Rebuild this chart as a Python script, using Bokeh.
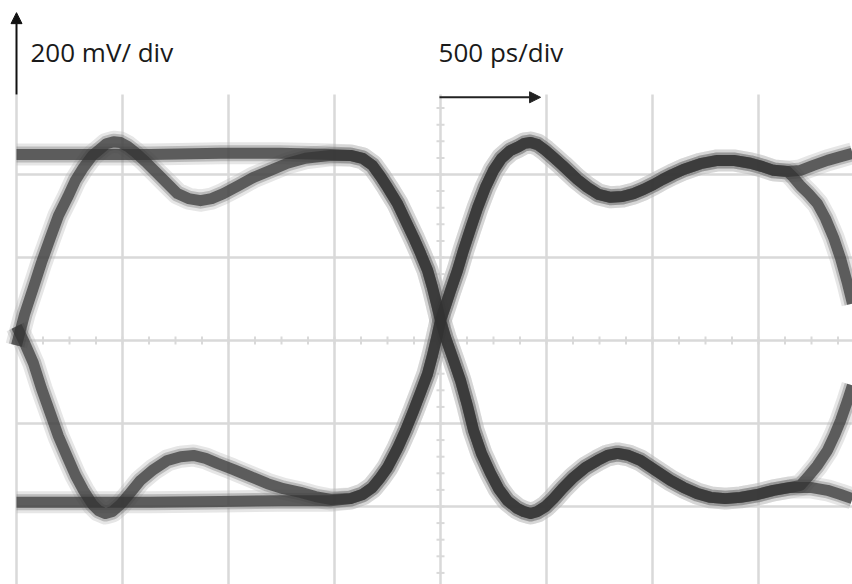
from bokeh.plotting import figure
from bokeh.models import Range1d, Label, Arrow, NormalHead
from bokeh.embed import file_html
from bokeh.resources import INLINE

# ---------------- data (time in ps, voltage in mV) ----------------
# Scale: 500 ps/div horizontally, 200 mV/div vertically
grid_t_ps = [-2000, -1500, -1000, -500, 0, 500, 1000, 1500]
grid_v_mV = [-400, -200, 0, 200, 400]

# left half segments
top_flat_left_t = [-2000, -1698, -1368, -1038, -755, -519]
top_flat_left_v = [448, 448, 448, 451, 451, 448]

top_ring_left_t = [-2000, -1962, -1920, -1882, -1840, -1802, -1759, -1722, -1684, -1642,
                   -1604, -1576, -1542, -1509, -1476, -1439, -1392, -1335, -1288, -1241,
                   -1189, -1132, -1080, -1024, -953, -882, -802, -722, -637, -519]
top_ring_left_v = [-12, 63, 128, 188, 248, 301, 345, 386, 417, 446,
                   462, 474, 479, 477, 468, 453, 431, 402, 378, 354,
                   342, 337, 342, 354, 373, 393, 410, 427, 439, 446]

bot_flat_left_t = [-2000, -1698, -1368, -1038, -755, -519]
bot_flat_left_v = [-390, -390, -390, -388, -386, -386]

bot_ring_left_t = [-2000, -1967, -1920, -1882, -1840, -1802, -1759, -1722, -1684, -1642,
                   -1613, -1580, -1547, -1509, -1462, -1415, -1354, -1288, -1226, -1165,
                   -1108, -1052, -976, -896, -816, -741, -660, -590, -519]
bot_ring_left_v = [34, 0, -55, -116, -176, -231, -282, -325, -361, -395,
                   -410, -417, -412, -395, -366, -337, -311, -289, -280, -277,
                   -284, -296, -311, -328, -345, -357, -366, -376, -383]

# transitions through the centre crossing and the right-half ringing
fall_mid_t = [-425, -368, -321, -283, -250, -203, -165, -127, -94, -61,
              -38, -19, 0, 24, 57, 94, 127, 156, 193, 236,
              274, 316, 363, 392, 425, 458, 495, 533, 575, 627,
              684, 741, 788, 835, 887, 943, 1014, 1085, 1146, 1212,
              1274, 1344, 1415, 1495, 1571, 1651]
fall_mid_v = [446, 439, 422, 395, 369, 330, 289, 248, 210, 169,
              128, 89, 48, 7, -41, -96, -157, -217, -272, -320,
              -357, -386, -405, -412, -417, -412, -400, -381, -357, -330,
              -306, -289, -277, -272, -277, -289, -313, -337, -354, -369,
              -378, -381, -378, -371, -361, -354]

rise_mid_t = [-425, -368, -321, -283, -250, -203, -165, -127, -94, -61,
              -38, -19, 0, 24, 47, 80, 108, 142, 175, 212,
              250, 288, 330, 368, 396, 425, 458, 495, 533, 575,
              646, 693, 745, 802, 858, 910, 958, 1005, 1047, 1094,
              1146, 1226, 1307, 1382, 1462, 1519, 1571, 1637]
rise_mid_v = [-381, -371, -354, -330, -306, -260, -217, -169, -125, -80,
              -36, 5, 48, 84, 120, 169, 217, 270, 320, 369,
              410, 439, 458, 467, 475, 477, 472, 458, 441, 422,
              388, 369, 352, 345, 347, 354, 364, 376, 388, 400,
              412, 426, 434, 434, 427, 419, 410, 407]

# right-edge segments
top_flat_end_t = [1698, 1759, 1825, 1887, 1943]
top_flat_end_v = [410, 422, 434, 443, 451]

top_fall_end_t = [1665, 1698, 1736, 1778, 1816, 1854, 1887, 1920, 1943]
top_fall_end_v = [393, 373, 354, 330, 294, 248, 198, 137, 89]

bot_flat_end_t = [1745, 1825, 1887, 1943]
bot_flat_end_v = [-354, -361, -371, -381]

bot_rise_end_t = [1698, 1731, 1778, 1825, 1858, 1887, 1920, 1943]
bot_rise_end_v = [-349, -330, -301, -265, -229, -193, -145, -108]

y_label = "200 mV/ div"
x_label = "500 ps/div"

# ---------------- build the four overlaid traces ----------------
traces = [
    (top_flat_left_t + fall_mid_t + bot_flat_end_t, top_flat_left_v + fall_mid_v + bot_flat_end_v),
    (top_ring_left_t + fall_mid_t + bot_rise_end_t, top_ring_left_v + fall_mid_v + bot_rise_end_v),
    (bot_flat_left_t + rise_mid_t + top_flat_end_t, bot_flat_left_v + rise_mid_v + top_flat_end_v),
    (bot_ring_left_t + rise_mid_t + top_fall_end_t, bot_ring_left_v + rise_mid_v + top_fall_end_v),
]

# ---------------- figure ----------------
PX_PER_PS = 106 / 500.0
PX_PER_MV = 83 / 200.0
W, H = 852, 584
X0_PX, Y0_PX = 440, 340  # pixel position of (0 ps, 0 mV)

p = figure(width=W, height=H,
           x_range=Range1d(-X0_PX / PX_PER_PS, (W - X0_PX) / PX_PER_PS),
           y_range=Range1d(-(H - Y0_PX) / PX_PER_MV, Y0_PX / PX_PER_MV),
           output_backend="svg", toolbar_location=None,
           x_axis_location=None, y_axis_location=None,
           min_border=0, min_border_left=0, min_border_right=0,
           min_border_top=0, min_border_bottom=0)
p.grid.visible = False
p.outline_line_color = None
p.background_fill_color = "white"
p.border_fill_color = "white"

xmin, xmax = p.x_range.start, p.x_range.end
ymin, ymax = p.y_range.start, p.y_range.end
grid_top = 593
grid_col = "#d9d9d9"

# grid lines
p.segment(x0=grid_t_ps, y0=[ymin] * len(grid_t_ps), x1=grid_t_ps, y1=[grid_top] * len(grid_t_ps),
          line_color=grid_col, line_width=2.5)
p.segment(x0=[grid_t_ps[0]] * len(grid_v_mV), y0=grid_v_mV, x1=[xmax] * len(grid_v_mV), y1=grid_v_mV,
          line_color=grid_col, line_width=2.5)

# minor ticks on the centre axes
tick_t = [t for t in range(-2000, 1950, 125)]
tick_v = [v for v in range(-560, 600, 40)]
hx = 4 / PX_PER_PS
hy = 4 / PX_PER_MV
p.segment(x0=tick_t, y0=[-hy] * len(tick_t), x1=tick_t, y1=[hy] * len(tick_t),
          line_color=grid_col, line_width=2)
p.segment(x0=[-hx] * len(tick_v), y0=tick_v, x1=[hx] * len(tick_v), y1=tick_v,
          line_color=grid_col, line_width=2)

# traces: soft halo then dark core
for t, v in traces:
    p.line(t, v, line_color="#b8b8b8", line_width=22, line_alpha=0.35, line_join="round", line_cap="butt")
for t, v in traces:
    p.line(t, v, line_color="#6a6a6a", line_width=16, line_alpha=0.35, line_join="round", line_cap="butt")
for t, v in traces:
    p.line(t, v, line_color="#333333", line_width=11, line_alpha=0.7, line_join="round", line_cap="butt")

# arrows
p.add_layout(Arrow(end=NormalHead(size=11, fill_color="#111111", line_color="#111111"),
                   x_start=-2000, y_start=593, x_end=-2000, y_end=790,
                   line_color="#111111", line_width=2))
p.add_layout(Arrow(end=NormalHead(size=11, fill_color="#222222", line_color="#222222"),
                   x_start=-5, y_start=586, x_end=472, y_end=586,
                   line_color="#222222", line_width=2))

# labels
p.add_layout(Label(x=-1934, y=694, text=y_label, text_font="Open Sans", text_font_size="26px",
                   text_color="#1a1a1a", text_baseline="alphabetic", text_align="left"))
p.add_layout(Label(x=-9, y=694, text=x_label, text_font="Open Sans", text_font_size="26px",
                   text_color="#1a1a1a", text_baseline="alphabetic", text_align="left"))

open("out.html", "w").write(file_html(p, INLINE))
